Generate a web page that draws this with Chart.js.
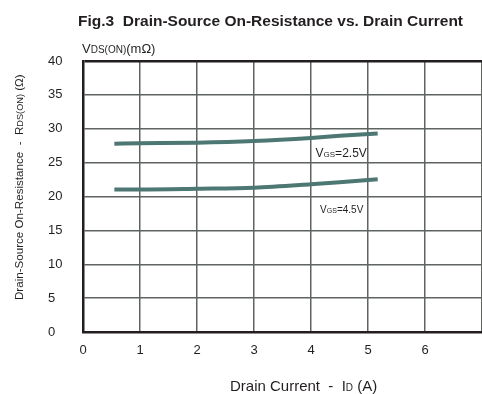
<!DOCTYPE html>
<html>
<head>
    <meta charset="utf-8" />
    <title>Fig.3 Drain-Source On-Resistance vs. Drain Current</title>
    <script src="https://cdn.jsdelivr.net/npm/chart.js@4.4.1/dist/chart.umd.min.js"></script>
    <style>
        body { margin: 0; background: #fff; }
        #wrap { width: 482px; height: 394px; }
    </style>
</head>
<body>
<div id="wrap"><canvas id="myChart" width="482" height="394"></canvas></div>
<script>
// data
var idVgs25 = [0.55, 1, 2, 3, 4, 4.5, 5.17];
var rdsVgs25 = [27.8, 27.85, 27.95, 28.2, 28.65, 28.95, 29.3];
var idVgs45 = [0.55, 1, 2, 3, 4, 4.5, 5.17];
var rdsVgs45 = [21.05, 21.05, 21.15, 21.3, 21.8, 22.1, 22.55];
var xTicks = [0, 1, 2, 3, 4, 5, 6];
var yTicks = [0, 5, 10, 15, 20, 25, 30, 35, 40];

var ink = '#231f20';
var gridGrey = '#5f6461';
var curve = '#4d7773';
var fam = '"Liberation Sans", Arial, sans-serif';

function toPoints(xs, ys) {
    return xs.map(function (x, i) { return { x: x, y: ys[i] }; });
}

// draws a row of text pieces with their own sizes (for the subscripts)
function richText(ctx, x, y, parts) {
    ctx.textBaseline = 'alphabetic';
    ctx.textAlign = 'left';
    parts.forEach(function (p) {
        ctx.font = (p.bold ? 'bold ' : '') + p.size + 'px ' + fam;
        ctx.fillText(p.t, x, y);
        x += ctx.measureText(p.t).width;
    });
}

var textPlugin = {
    id: 'sheetText',
    afterDraw: function (chart) {
        var ctx = chart.ctx;
        var xs = chart.scales.x, ys = chart.scales.y;
        ctx.save();
        ctx.fillStyle = ink;

        richText(ctx, 78, 26, [{ t: 'Fig.3  Drain-Source On-Resistance vs. Drain Current', size: 15.5, bold: true }]);
        richText(ctx, 82, 53, [{ t: 'V', size: 13 }, { t: 'DS(ON)', size: 10 }, { t: '(m\u03A9)', size: 13 }]);

        // curve labels
        richText(ctx, xs.getPixelForValue(4.08), ys.getPixelForValue(25.9),
            [{ t: 'V', size: 12 }, { t: 'GS', size: 8 }, { t: '=2.5V', size: 12 }]);
        richText(ctx, xs.getPixelForValue(4.16), ys.getPixelForValue(17.6),
            [{ t: 'V', size: 10 }, { t: 'GS', size: 7 }, { t: '=4.5V', size: 10 }]);

        // x title
        richText(ctx, 230, 391, [{ t: 'Drain Current  -  I', size: 15 }, { t: 'D', size: 10 }, { t: ' (A)', size: 15 }]);

        // y title, rotated
        ctx.translate(23, 300);
        ctx.rotate(-Math.PI / 2);
        richText(ctx, 0, 0, [{ t: 'Drain-Source On-Resistance  -  R', size: 11.6 }, { t: 'DS(ON)', size: 9.2 }, { t: ' (\u03A9)', size: 11.6 }]);
        ctx.restore();
    }
};

function noPad(s) {
    s.paddingLeft = 0;
    s.paddingRight = 0;
    s.paddingTop = 0;
    s.paddingBottom = 0;
}

var ctx = document.getElementById('myChart').getContext('2d');
var chart = new Chart(ctx, {
    type: 'line',
    data: {
        datasets: [{
            label: 'VGS=2.5V',
            data: toPoints(idVgs25, rdsVgs25),
            borderColor: curve,
            borderWidth: 4,
            pointRadius: 0,
            cubicInterpolationMode: 'monotone',
            fill: false
        },
        {
            label: 'VGS=4.5V',
            data: toPoints(idVgs45, rdsVgs45),
            borderColor: curve,
            borderWidth: 4,
            pointRadius: 0,
            cubicInterpolationMode: 'monotone',
            fill: false
        }]
    },
    options: {
        responsive: false,
        animation: false,
        events: [],
        layout: { padding: { left: 48, top: 61, right: 0, bottom: 22 } },
        plugins: {
            legend: { display: false },
            tooltip: { enabled: false }
        },
        scales: {
            x: {
                type: 'linear',
                min: 0,
                max: 7,
                afterBuildTicks: function (s) { s.ticks = xTicks.concat([7]).map(function (v) { return { value: v }; }); },
                afterFit: function (s) { s.height = 40; noPad(s); },
                ticks: {
                    padding: 11,
                    color: ink,
                    font: { family: fam, size: 13 },
                    maxRotation: 0,
                    callback: function (v) { return xTicks.indexOf(v) >= 0 ? String(v) : ''; }
                },
                grid: {
                    drawTicks: false,
                    color: gridGrey,
                    lineWidth: 1.5
                },
                border: { display: true, color: ink, width: 2.5 }
            },
            y: {
                type: 'linear',
                min: 0,
                max: 40,
                afterBuildTicks: function (s) { s.ticks = yTicks.map(function (v) { return { value: v }; }); },
                afterFit: function (s) { s.width = 35; noPad(s); },
                ticks: {
                    crossAlign: 'far',
                    color: ink,
                    font: { family: fam, size: 13 }
                },
                grid: {
                    drawTicks: false,
                    color: function (c) { return c.tick && c.tick.value === 40 ? ink : gridGrey; },
                    lineWidth: function (c) { return c.tick && c.tick.value === 40 ? 2.5 : 1.5; }
                },
                border: { display: true, color: ink, width: 2.5 }
            }
        }
    },
    plugins: [textPlugin]
});
</script>
</body>
</html>
